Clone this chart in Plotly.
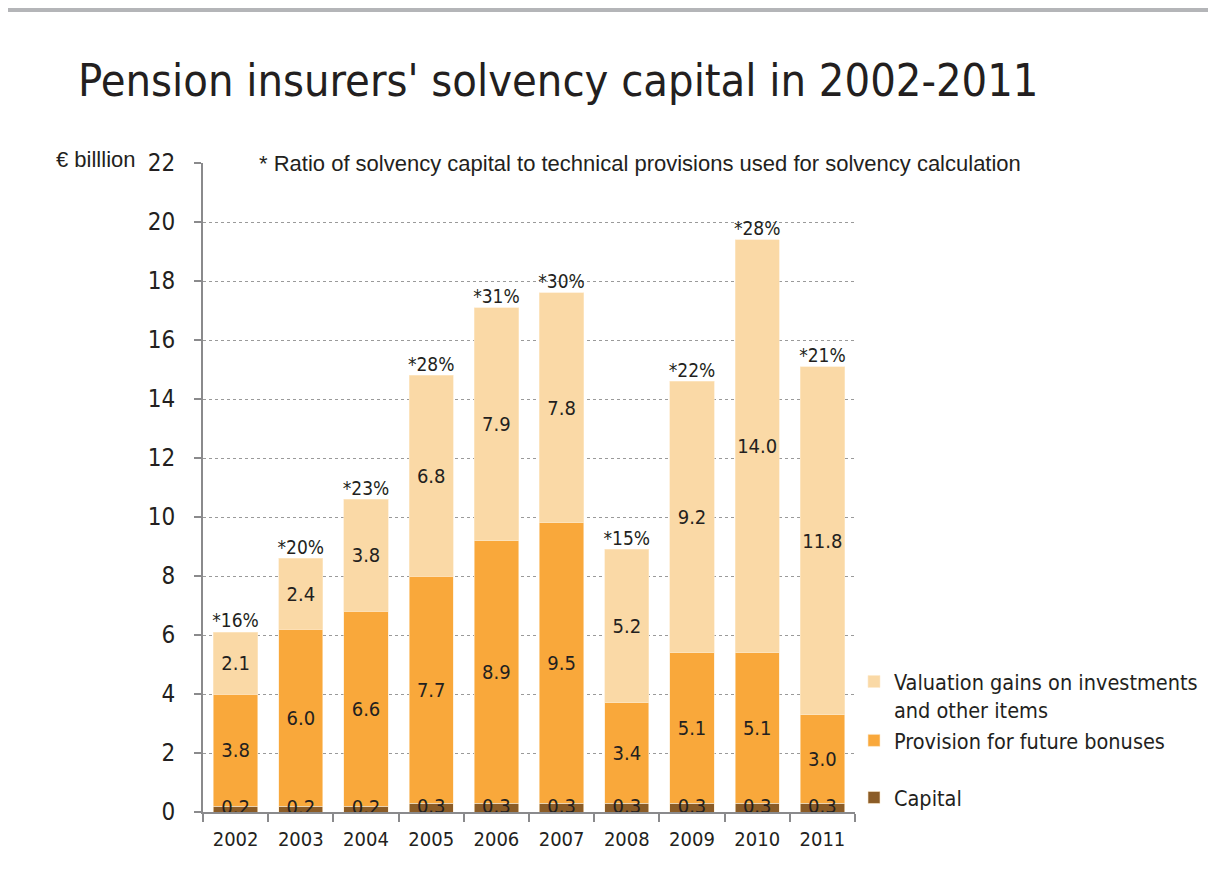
import plotly.graph_objects as go

years = ['2002', '2003', '2004', '2005', '2006', '2007', '2008', '2009', '2010', '2011']
capital = [0.2, 0.2, 0.2, 0.3, 0.3, 0.3, 0.3, 0.3, 0.3, 0.3]
provision = [3.8, 6.0, 6.6, 7.7, 8.9, 9.5, 3.4, 5.1, 5.1, 3.0]
valuation = [2.1, 2.4, 3.8, 6.8, 7.9, 7.8, 5.2, 9.2, 14.0, 11.8]
ratio_pct = [16, 20, 23, 28, 31, 30, 15, 22, 28, 21]

totals = [c + p + v for c, p, v in zip(capital, provision, valuation)]

COND = 'DejaVu Sans Condensed, DejaVu Sans, sans-serif'
ARIAL = 'Liberation Sans, Arial, sans-serif'
TEXT = '#231f20'
AXIS = '#8a8a8c'

# the page body adds an 8px margin, so the figure is 8px smaller
# and fractions below are computed from page pixels (plot area 203..855, 163..812)
PX0, PY0, PW, PH = 203, 812, 652, 649


def fx(px):
    return (px - PX0) / PW


def fy(py):
    return (PY0 - py) / PH


fig = go.Figure()


def add_segment(values, name, color, legend, show_text=True):
    fig.add_trace(go.Bar(
        x=years,
        y=values,
        name=name,
        legend=legend,
        marker=dict(color=color, line=dict(color='#fde9cc', width=0.6)),
        texttemplate='%{y:.1f}' if show_text else None,
        textposition='inside' if show_text else 'none',
        insidetextanchor='middle',
        constraintext='none',
        textangle=0,
        textfont=dict(family=COND, size=20, color=TEXT),
        hoverinfo='skip',
    ))


add_segment(capital, 'Capital', '#8b5c27', 'legend2', show_text=False)
add_segment(provision, 'Provision for future bonuses', '#f9a83b', 'legend')
add_segment(valuation, 'Valuation gains on investments<br>and other items', '#fad9a6', 'legend')

# capital labels drawn on top so the next segment does not hide them
fig.add_trace(go.Scatter(
    x=years,
    y=[c / 2 for c in capital],
    mode='text',
    text=[f'{c:.1f}' for c in capital],
    textposition='middle center',
    textfont=dict(family=COND, size=20, color=TEXT),
    showlegend=False,
    cliponaxis=False,
    hoverinfo='skip',
))

fig.add_trace(go.Scatter(
    x=years,
    y=totals,
    mode='text',
    text=[f'*{r}%' for r in ratio_pct],
    textposition='top center',
    textfont=dict(family=COND, size=19, color=TEXT),
    showlegend=False,
    cliponaxis=False,
    hoverinfo='skip',
))

fig.update_layout(
    width=1208,
    height=868,
    barmode='stack',
    bargap=0.32,
    margin=dict(l=195, r=361, t=155, b=64),
    paper_bgcolor='#b4b5b8',
    plot_bgcolor='white',
    title=dict(
        text="Pension insurers' solvency capital in 2002-2011",
        x=(78 - 8) / 1208, xanchor='left',
        y=1 - (80 - 8) / 868, yanchor='middle',
        font=dict(family=COND, size=44.8, color=TEXT),
    ),
    xaxis=dict(
        type='category',
        tickson='boundaries',
        ticks='outside',
        ticklen=8,
        tickwidth=1.5,
        tickcolor=AXIS,
        showline=True,
        linecolor=AXIS,
        linewidth=2,
        showgrid=False,
        ticklabelstandoff=8,
        tickfont=dict(family=COND, size=20, color=TEXT),
    ),
    yaxis=dict(
        range=[0, 22],
        dtick=2,
        ticks='outside',
        ticklen=7,
        tickwidth=1.5,
        tickcolor=AXIS,
        showline=True,
        linecolor=AXIS,
        linewidth=2,
        showgrid=True,
        gridcolor='#9a9a9a',
        griddash='dot',
        gridwidth=1,
        zeroline=False,
        ticklabelstandoff=14,
        tickfont=dict(family=COND, size=24, color=TEXT),
    ),
    legend=dict(
        x=fx(854), xanchor='left',
        y=fy(661), yanchor='top',
        traceorder='reversed',
        valign='top',
        font=dict(family=COND, size=21.5, color=TEXT),
        bgcolor='rgba(0,0,0,0)',
    ),
    legend2=dict(
        x=fx(854), xanchor='left',
        y=fy(777), yanchor='top',
        font=dict(family=COND, size=21.5, color=TEXT),
        bgcolor='rgba(0,0,0,0)',
    ),
    showlegend=True,
    shapes=[dict(
        type='rect', xref='paper', yref='paper', layer='below',
        x0=fx(-20), x1=fx(1210),
        y0=fy(900), y1=fy(12),
        fillcolor='white', line=dict(width=0),
    )],
    annotations=[
        dict(
            text='* Ratio of solvency capital to technical provisions used for solvency calculation',
            xref='paper', yref='paper', x=fx(254), y=1,
            xanchor='left', yanchor='middle', showarrow=False,
            bgcolor='white', borderpad=4,
            font=dict(family=ARIAL, size=22, color=TEXT),
        ),
        dict(
            text='€ billlion',
            xref='paper', yref='paper', x=fx(54), y=fy(160),
            xanchor='left', yanchor='middle', showarrow=False,
            font=dict(family=ARIAL, size=22, color=TEXT),
        ),
    ],
)

fig.write_html('out.html')
